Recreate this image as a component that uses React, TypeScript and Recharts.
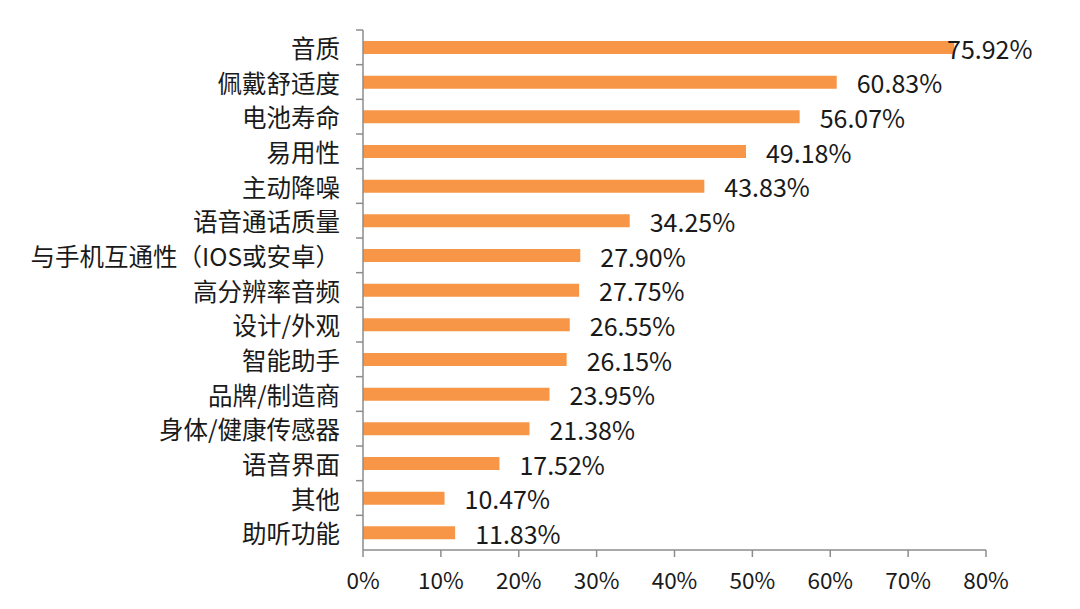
import { Bar, BarChart, LabelList, XAxis, YAxis } from "recharts";

const categories = [
  "音质",
  "佩戴舒适度",
  "电池寿命",
  "易用性",
  "主动降噪",
  "语音通话质量",
  "与手机互通性（IOS或安卓）",
  "高分辨率音频",
  "设计/外观",
  "智能助手",
  "品牌/制造商",
  "身体/健康传感器",
  "语音界面",
  "其他",
  "助听功能",
];

const shares = [
  0.7592, 0.6083, 0.5607, 0.4918, 0.4383, 0.3425, 0.279, 0.2775, 0.2655,
  0.2615, 0.2395, 0.2138, 0.1752, 0.1047, 0.1183,
];

const xTicks = [0, 0.1, 0.2, 0.3, 0.4, 0.5, 0.6, 0.7, 0.8];

const data = categories.map((name, i) => ({ name, value: shares[i] }));

const WIDTH = 1080;
const HEIGHT = 609;
const TOP = 30;
const X_AXIS_H = 59;
const AXIS_LEFT = 363;
const RIGHT = 94;
const band = (HEIGHT - TOP - X_AXIS_H) / categories.length;

const font = '"Noto Sans CJK SC", "Noto Sans", sans-serif';
const axisColor = "#8c8c8c";
const textColor = "#1a1a1a";

function pct(v: number): string {
  return `${Math.round(v * 100)}%`;
}

function CategoryTick(props: any) {
  const { x, y, payload } = props;
  return (
    <g>
      <line
        x1={AXIS_LEFT - 7}
        x2={AXIS_LEFT}
        y1={y - band / 2}
        y2={y - band / 2}
        stroke={axisColor}
        strokeWidth={1.5}
      />
      <text
        x={x - 15}
        y={y}
        textAnchor="end"
        dominantBaseline="central"
        fontSize={24.5}
        fontFamily={font}
        fill={textColor}
      >
        {payload.value}
      </text>
    </g>
  );
}

function ValueLabel(props: any) {
  const { x, y, width, height, value } = props;
  const tx = Math.min(x + width + 20, 947);
  return (
    <text
      x={tx}
      y={y + height / 2}
      dominantBaseline="central"
      fontSize={25}
      fontFamily={font}
      fill={textColor}
    >
      {`${(value * 100).toFixed(2)}%`}
    </text>
  );
}

export default function App() {
  return (
    <div style={{ position: "absolute", left: 0, top: 0, background: "#fff" }}>
      <BarChart
        width={WIDTH}
        height={HEIGHT}
        data={data}
        layout="vertical"
        margin={{ top: TOP, right: RIGHT, bottom: 0, left: 0 }}
        barCategoryGap={0}
      >
        <XAxis
          type="number"
          domain={[0, 0.8]}
          ticks={xTicks}
          tickFormatter={pct}
          interval={0}
          height={X_AXIS_H}
          stroke={axisColor}
          strokeWidth={1.5}
          tickSize={7}
          tickMargin={16}
          tick={{ fontSize: 22.5, fontFamily: font, fill: textColor }}
        />
        <YAxis
          type="category"
          dataKey="name"
          width={AXIS_LEFT}
          interval={0}
          stroke={axisColor}
          strokeWidth={1.5}
          tickLine={false}
          tick={<CategoryTick />}
        />
        <Bar
          dataKey="value"
          fill="#F79646"
          barSize={13}
          isAnimationActive={false}
        >
          <LabelList dataKey="value" content={<ValueLabel />} />
        </Bar>
      </BarChart>
    </div>
  );
}
